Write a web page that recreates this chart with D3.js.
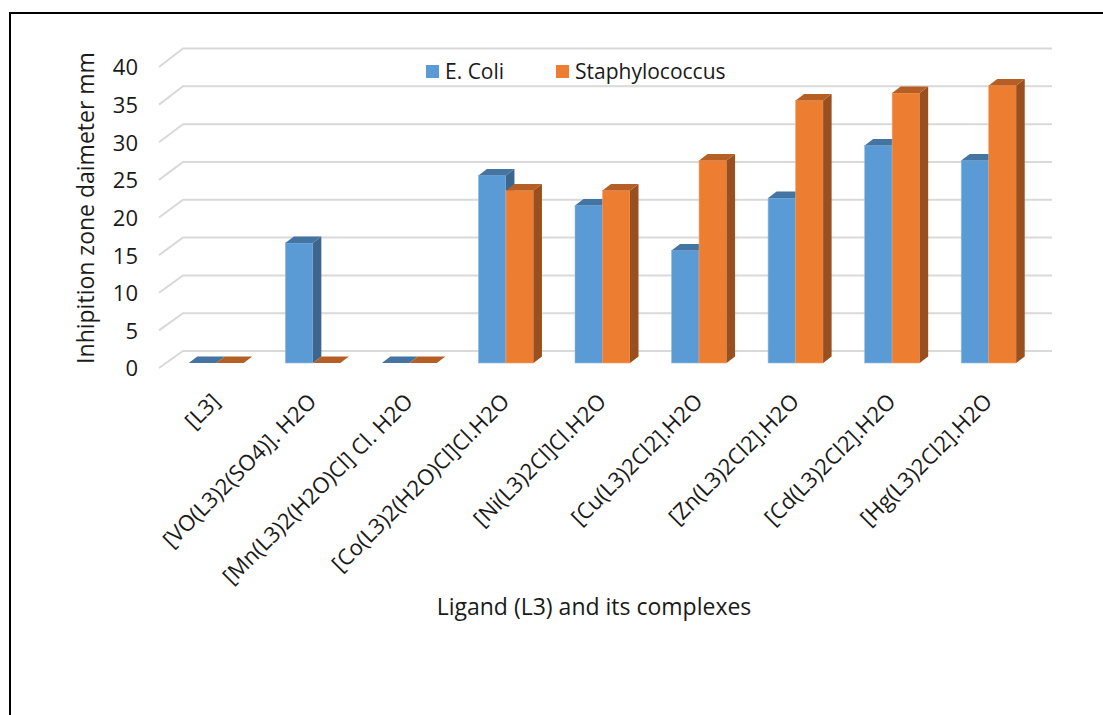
<!DOCTYPE html>
<html>
<head>
<meta charset="utf-8">
<script src="https://cdn.jsdelivr.net/npm/d3@7/dist/d3.min.js"></script>
<style>
  html, body { margin: 0; padding: 0; background: #fff; }
  svg { display: block; }
  text { font-family: "Open Sans", "Noto Sans", sans-serif; fill: #1a1a1a; }
</style>
</head>
<body>
<svg id="chart" width="1103" height="715"></svg>
<script>
// Inhibition zone diameters (mm) for the ligand and its metal complexes
const categories = [
  "[L3]",
  "[VO(L3)2(SO4)]. H2O",
  "[Mn(L3)2(H2O)Cl] Cl. H2O",
  "[Co(L3)2(H2O)Cl]Cl.H2O",
  "[Ni(L3)2Cl]Cl.H2O",
  "[Cu(L3)2Cl2].H2O",
  "[Zn(L3)2Cl2].H2O",
  "[Cd(L3)2Cl2].H2O",
  "[Hg(L3)2Cl2].H2O"
];
const seriesNames = ["E. Coli", "Staphylococcus"];
const eColi = [0, 16, 0, 25, 21, 15, 22, 29, 27];
const staphylococcus = [0, 0, 0, 23, 23, 27, 35, 36, 37];
const yTicks = [0, 5, 10, 15, 20, 25, 30, 35, 40];

const series = [eColi, staphylococcus];
const palette = [
  { front: "#5b9bd5", top: "#4474a2", side: "#3c668d", edge: "#8fbbe6" },
  { front: "#ed7d31", top: "#b65f24", side: "#9a4f1e", edge: "#f3a470" }
];

const svg = d3.select("#chart");

// frame around the figure
svg.append("line").attr("x1", 9).attr("x2", 1103).attr("y1", 13).attr("y2", 13)
  .attr("stroke", "#000").attr("stroke-width", 2);
svg.append("line").attr("x1", 10).attr("x2", 10).attr("y1", 12).attr("y2", 715)
  .attr("stroke", "#000").attr("stroke-width", 2);

// 3-D projection: back wall, front edge and bar faces have their own vertical scales
const yBack = d3.scaleLinear().domain([0, 40]).range([351, 48.5]);
const yFront = d3.scaleLinear().domain([0, 40]).range([368, 67]);
const yBar = d3.scaleLinear().domain([0, 40]).range([363, 63]);
const x = d3.scaleBand().domain(categories).range([168, 1037]).padding(0);
const wallX0 = 183, wallX1 = 1052, frontX = 159;
const barW = 27.5, depthX = 8.5, depthY = -6.6;

// gridlines on the back wall plus the receding edge on the side
const grid = svg.append("g");
yTicks.forEach(v => {
  grid.append("polyline")
    .attr("points", `${frontX},${yFront(v)} ${wallX0},${yBack(v)} ${wallX1},${yBack(v)}`)
    .attr("fill", "none").attr("stroke", "#d9d9d9").attr("stroke-width", 2);
});

// value axis labels
const yAxis = d3.axisLeft(yFront).tickValues(yTicks).tickSize(0).tickPadding(0);
const yg = svg.append("g").attr("transform", "translate(138,0)").call(yAxis);
yg.select(".domain").remove();
yg.selectAll("text").style("font-family", '"Open Sans", sans-serif')
  .style("font-size", "22px").attr("fill", "#1a1a1a").attr("dy", "0.36em");

// bars: front face, top face, right side face
const bars = svg.append("g");
categories.forEach((c, i) => {
  const cx = x(c) + x.bandwidth() / 2;
  series.forEach((vals, s) => {
    const v = vals[i];
    const x0 = cx - barW + s * barW;
    const x1 = x0 + barW;
    const yb = yBar(0), yt = yBar(v);
    const col = palette[s];
    const g = bars.append("g");
    if (v > 0) {
      g.append("rect").attr("x", x0).attr("y", yt).attr("width", barW).attr("height", yb - yt)
        .attr("fill", col.front).attr("stroke", col.edge).attr("stroke-width", 0.6);
      g.append("polygon")
        .attr("points", `${x1},${yb} ${x1 + depthX},${yb + depthY} ${x1 + depthX},${yt + depthY} ${x1},${yt}`)
        .attr("fill", col.side);
    }
    g.append("polygon")
      .attr("points", `${x0},${yt} ${x1},${yt} ${x1 + depthX},${yt + depthY} ${x0 + depthX},${yt + depthY}`)
      .attr("fill", col.top);
  });
});

// category labels, rotated
const xl = svg.append("g");
categories.forEach(c => {
  const cx = x(c) + x.bandwidth() / 2;
  xl.append("text")
    .attr("transform", `translate(${cx + 5},${403}) rotate(-45)`)
    .attr("text-anchor", "end")
    .style("font-size", "22px")
    .text(c);
});

// axis titles
svg.append("text")
  .attr("transform", "translate(94,208) rotate(-90)")
  .attr("text-anchor", "middle").style("font-size", "23px")
  .text("Inhipition zone daimeter mm");
svg.append("text")
  .attr("x", 594).attr("y", 615)
  .attr("text-anchor", "middle").style("font-size", "23px")
  .text("Ligand (L3) and its complexes");

// legend
const legendX = [426, 556];
seriesNames.forEach((n, s) => {
  svg.append("rect").attr("x", legendX[s]).attr("y", 65).attr("width", 13).attr("height", 13)
    .attr("fill", palette[s].front);
  svg.append("text").attr("x", legendX[s] + 19).attr("y", 78.5)
    .style("font-size", "21px").text(n);
});
</script>
</body>
</html>
